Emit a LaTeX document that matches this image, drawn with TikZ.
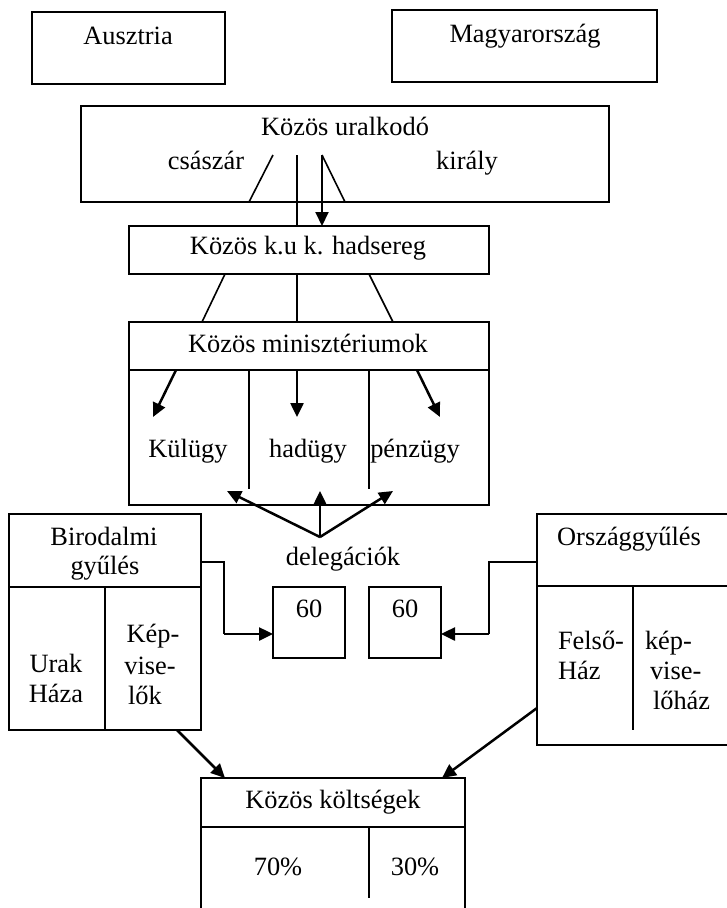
\documentclass[tikz,border=0pt]{standalone}
\usepackage{fontspec}
\setmainfont{Liberation Serif}
\usetikzlibrary{arrows.meta}
\begin{document}
\begin{tikzpicture}[x=1pt,y=-1pt,
  box/.style={draw, line width=1.7pt, rectangle, inner sep=0pt, outer sep=0pt, anchor=north west},
  lbl/.style={inner sep=0pt, outer sep=0pt, font=\fontsize{26.4}{30}\selectfont, text height=0.5em, text depth=0pt},
  thin/.style={line width=1.6pt},
  arr/.style={line width=2.5pt, -{Triangle[length=14pt,width=13pt]}},
]
\useasboundingbox (0,0) rectangle (726,908);
% boxes
\node[box, minimum width=193pt, minimum height=72pt] (aus) at (32,12) {};
\node[box, minimum width=265pt, minimum height=72pt] (mag) at (392,10) {};
\node[box, minimum width=528pt, minimum height=96pt] (ural) at (81,106) {};
\node[box, minimum width=360pt, minimum height=48pt] (army) at (129,226) {};
\node[box, minimum width=360pt, minimum height=183pt] (min) at (129,322) {};
\node[box, minimum width=192pt, minimum height=216pt] (biro) at (9,514) {};
\node[box, minimum width=72pt, minimum height=71pt] (del1) at (273,587) {};
\node[box, minimum width=72pt, minimum height=71pt] (del2) at (369,587) {};
\node[box, minimum width=192pt, minimum height=231pt] (orsz) at (537,514) {};
\node[box, minimum width=264pt, minimum height=140pt] (kolt) at (201,778) {};

% inner separators
\draw[thin] (129,370) -- (489,370);
\draw[thin] (249,370) -- (249,489);
\draw[thin] (369,370) -- (369,489);
\draw[thin] (9,587) -- (201,587);
\draw[thin] (105,587) -- (105,730);
\draw[thin] (537,586) -- (729,586);
\draw[thin] (633,586) -- (633,730);
\draw[thin] (201,827) -- (465,827);
\draw[thin] (369,827) -- (369,898);

% texts
\node[lbl] (taus) at (128,42) {Ausztria};
\node[lbl] (tmag) at (525,40) {Magyarország};
\node[lbl] (tural) at (345,133) {Közös uralkodó};
\node[lbl] (tcsa) at (206,167) {császár};
\node[lbl] (tkir) at (467,167) {király};
\node[lbl] (tarmy) at (308,252) {Közös k.u k. hadsereg};
\node[lbl] (tmin) at (308,350) {Közös minisztériumok};
\node[lbl] (tkul) at (188,455) {Külügy};
\node[lbl] (thad) at (308,455) {hadügy};
\node[lbl] (tpen) at (415,455) {pénzügy};
\node[lbl] (tbir1) at (104,543) {Birodalmi};
\node[lbl] (tbir2) at (105,572) {gyűlés};
\node[lbl] (turak1) at (56,670) {Urak};
\node[lbl] (turak2) at (56,700) {Háza};
\node[lbl] (tkep1) at (153,640) {Kép-};
\node[lbl] (tkep2) at (150,672) {vise-};
\node[lbl] (tkep3) at (145,702) {lők};
\node[lbl] (tdel) at (343,563) {delegációk};
\node[lbl] (t60a) at (309,615) {60};
\node[lbl] (t60b) at (405,615) {60};
\node[lbl] (torsz) at (629,543) {Országgyűlés};
\node[lbl, anchor=west] (tfel1) at (558,647) {Felső-};
\node[lbl, anchor=west] (tfel2) at (558,677) {Ház};
\node[lbl, anchor=west] (tkp1) at (645,647) {kép-};
\node[lbl, anchor=west] (tkp2) at (650,677) {vise-};
\node[lbl, anchor=west] (tkp3) at (653,707) {lőház};
\node[lbl] (tkolt) at (333,806) {Közös költségek};
\node[lbl] (t70) at (278,873) {70\%};
\node[lbl] (t30) at (415,873) {30\%};

% connection points
\coordinate (u1) at (273,155); \coordinate (u1b) at (249,202);
\coordinate (u2) at (297,155); \coordinate (u2b) at (297,226);
\coordinate (u3) at (322,155); \coordinate (u3b) at (322,226);
\coordinate (u4b) at (345,202);
\coordinate (a1) at (225,274); \coordinate (a1b) at (202,322);
\coordinate (a2) at (297,274); \coordinate (a2b) at (297,322);
\coordinate (a3) at (369,274); \coordinate (a3b) at (393,322);
\coordinate (m1) at (176,370); \coordinate (m1b) at (153,417);
\coordinate (m2) at (297,370); \coordinate (m2b) at (297,417);
\coordinate (m3) at (417,370); \coordinate (m3b) at (440,417);
\coordinate (apex) at (320,537);
\coordinate (d1) at (227,491); \coordinate (d2) at (320,491); \coordinate (d3) at (393,491);
\coordinate (b1) at (201,562); \coordinate (b2) at (224,562); \coordinate (b3) at (224,634); \coordinate (b4) at (273,634);
\coordinate (o1) at (537,562); \coordinate (o2) at (489,562); \coordinate (o3) at (489,634); \coordinate (o4) at (441,634);
\coordinate (k1) at (177,730); \coordinate (k1b) at (225,778);
\coordinate (k2) at (537,708); \coordinate (k2b) at (442,778);

% connectors
\draw[thin] (u1) -- (u1b);
\draw[thin] (u2) -- (u2b);
\draw[arr, line width=2pt] (u3) -- (u3b);
\draw[thin] (u3) -- (u4b);
\draw[thin] (a1) -- (a1b);
\draw[thin] (a2) -- (a2b);
\draw[thin] (a3) -- (a3b);
\draw[arr] (m1) -- (m1b);
\draw[arr] (m2) -- (m2b);
\draw[arr] (m3) -- (m3b);
\draw[arr] (apex) -- (d1);
\draw[arr] (apex) -- (d2);
\draw[arr] (apex) -- (d3);
\draw[thin] (b1) -- (b2) -- (b3);
\draw[arr] (b3) -- (b4);
\draw[thin] (o1) -- (o2) -- (o3);
\draw[arr] (o3) -- (o4);
\draw[arr] (k1) -- (k1b);
\draw[arr] (k2) -- (k2b);
\end{tikzpicture}
\end{document}
